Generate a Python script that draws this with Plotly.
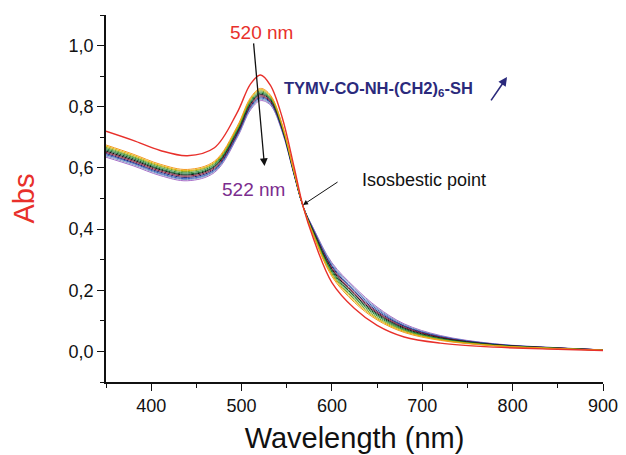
import plotly.graph_objects as go

wavelength = [350, 380, 410, 440, 470, 495, 510, 521, 532, 545, 558, 568, 580,
              600, 625, 650, 680, 720, 780, 850, 900]

abs_red = [.720, .690, .657, .640, .666, .780, .875, .904, .870, .765, .605, .475, .365,
           .225, .140, .085, .047, .027, .014, .007, .003]
abs_c0 = [.675, .645, .612, .595, .622, .735, .830, .860, .838, .742, .590, .475, .375,
          .245, .160, .103, .062, .036, .018, .009, .004]
abs_c1 = [.671, .641, .608, .591, .618, .731, .826, .856, .835, .740, .589, .475, .378,
          .250, .165, .107, .065, .038, .019, .009, .004]
abs_c2 = [.667, .637, .605, .588, .615, .728, .822, .852, .831, .737, .588, .475, .380,
          .254, .170, .111, .068, .039, .019, .010, .004]
abs_c3 = [.663, .634, .601, .584, .611, .724, .818, .848, .828, .735, .586, .475, .383,
          .259, .175, .116, .070, .041, .020, .010, .004]
abs_c4 = [.659, .630, .597, .580, .607, .720, .814, .844, .825, .732, .585, .475, .385,
          .263, .180, .120, .073, .042, .021, .010, .004]
abs_c5 = [.655, .626, .594, .577, .604, .717, .810, .840, .822, .730, .584, .475, .388,
          .268, .185, .124, .076, .044, .022, .011, .005]
abs_c6 = [.651, .622, .590, .573, .600, .713, .806, .836, .818, .728, .583, .475, .390,
          .272, .190, .128, .079, .046, .022, .011, .005]
abs_c7 = [.647, .618, .586, .569, .596, .709, .802, .832, .815, .725, .582, .475, .393,
          .277, .195, .132, .082, .047, .023, .011, .005]
abs_c8 = [.643, .615, .582, .565, .592, .705, .798, .828, .812, .723, .580, .475, .395,
          .281, .200, .137, .084, .049, .024, .011, .005]
abs_c9 = [.639, .611, .579, .562, .589, .702, .794, .824, .808, .720, .579, .475, .398,
          .286, .205, .141, .087, .050, .024, .012, .005]
abs_c10 = [.635, .607, .575, .558, .585, .698, .790, .820, .805, .718, .578, .475, .400,
           .290, .210, .145, .090, .052, .025, .012, .005]

bundle = [abs_c0, abs_c1, abs_c2, abs_c3, abs_c4, abs_c5, abs_c6, abs_c7, abs_c8, abs_c9, abs_c10]
bundle_colors = ["#f39a1e", "#d8b400", "#7fa22a", "#2f8f3a", "#0e5e2a", "#111111",
                 "#8a1535", "#24246e", "#3a62c4", "#7f9cc0", "#a66cc8"]

FONT = "Liberation Sans, Arial, Helvetica, sans-serif"

fig = go.Figure()
for vals, col in zip(reversed(bundle), reversed(bundle_colors)):
    fig.add_trace(go.Scatter(x=wavelength, y=vals, mode="lines",
                             line=dict(color=col, width=1.0, shape="spline"),
                             showlegend=False, hoverinfo="skip"))
fig.add_trace(go.Scatter(x=wavelength, y=abs_red, mode="lines",
                         line=dict(color="#e8302b", width=1.4, shape="spline"),
                         showlegend=False, hoverinfo="skip"))

ann = []
ann.append(dict(x=522.6, y=1.044, text="520 nm", showarrow=False,
                font=dict(family=FONT, size=19, color="#e8302b")))
ann.append(dict(x=525.4, y=0.606, ax=513.2, ay=1.012, axref="x", ayref="y",
                text="", showarrow=True, arrowhead=2, arrowsize=1.2, arrowwidth=1.3,
                arrowcolor="#111111"))
ann.append(dict(x=513.2, y=0.531, text="522 nm", showarrow=False,
                font=dict(family=FONT, size=19, color="#7b2d8e")))
ann.append(dict(x=701.9, y=0.562, text="Isosbestic point", showarrow=False,
                font=dict(family=FONT, size=18, color="#111111")))
ann.append(dict(x=568.0, y=0.479, ax=607.9, ay=0.557, axref="x", ayref="y",
                text="", showarrow=True, arrowhead=2, arrowsize=1, arrowwidth=1,
                arrowcolor="#111111"))
ann.append(dict(x=544.8, y=0.858, xanchor="left",
                text="<b>TYMV-CO-NH-(CH2)<sub>6</sub>-SH</b>", showarrow=False,
                font=dict(family=FONT, size=16.5, color="#2b2a7c")))
ann.append(dict(x=793.8, y=0.897, ax=775.0, ay=0.816, axref="x", ayref="y",
                text="", showarrow=True, arrowhead=2, arrowsize=1.1, arrowwidth=1.6,
                arrowcolor="#2b2a7c"))

# page body has an 8px default margin, so the figure is sized to fit the window
fig.update_layout(
    width=618, height=447,
    margin=dict(l=98, r=23, t=7, b=73),
    paper_bgcolor="white", plot_bgcolor="white",
    separators=", ",
    annotations=ann,
    font=dict(family=FONT, color="#111111"),
    xaxis=dict(range=[350, 900], showgrid=False, zeroline=False, automargin=False,
               showline=True, linecolor="#111111", linewidth=1.5,
               ticks="outside", ticklen=7, tickwidth=1.3, tickcolor="#111111",
               tickmode="linear", tick0=400, dtick=100,
               minor=dict(ticks="outside", ticklen=4, tickwidth=1.2, tickcolor="#111111",
                          tick0=350, dtick=50),
               tickfont=dict(family=FONT, size=18, color="#111111"),
               title=dict(text="Wavelength (nm)", standoff=12,
                          font=dict(family=FONT, size=29, color="#111111"))),
    yaxis=dict(range=[-0.1, 1.1], showgrid=False, zeroline=False, automargin=False,
               showline=True, linecolor="#111111", linewidth=1.5,
               ticks="outside", ticklen=7, tickwidth=1.3, tickcolor="#111111",
               tickmode="linear", tick0=0, dtick=0.2, tickformat=".1f",
               minor=dict(ticks="outside", ticklen=4, tickwidth=1.2, tickcolor="#111111",
                          tick0=-0.1, dtick=0.1),
               tickfont=dict(family=FONT, size=18, color="#111111"),
               title=dict(text="Abs", standoff=28,
                          font=dict(family=FONT, size=29, color="#e8302b"))),
)

fig.write_html("out.html")
